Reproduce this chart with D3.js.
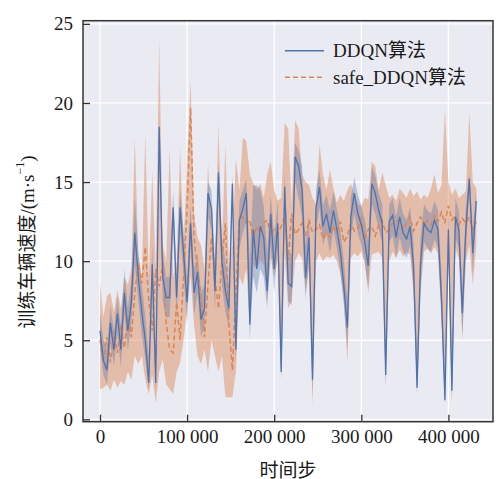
<!DOCTYPE html>
<html>
<head>
<meta charset="utf-8">
<title>训练车辆速度</title>
<script src="https://cdn.jsdelivr.net/npm/d3@7"></script>
<style>
  body { margin: 0; background: #fff; }
  text { font-family: "Liberation Serif", "Noto Sans CJK SC", serif; fill: #1a1a1a; }
</style>
</head>
<body>
<script>
// time steps: one sample every 4000 steps
let steps = d3.range(0, 436000, 4000);

// DDQN: mean and band
let ddqn = [5.6, 3.7, 3.1, 6.1, 4.4, 6.7, 4.4, 8.0, 5.6, 7.4, 11.8, 9.0, 6.8, 5.0, 2.3, 9.8, 2.3, 18.5, 9.0, 7.7,
    7.7, 13.4, 7.7, 13.4, 10.5, 7.4, 12.4, 8.0, 9.3, 6.3, 7.0, 14.3, 13.3, 8.1, 15.6, 10.0, 8.1, 7.0, 14.9, 4.4,
    12.6, 13.3, 14.3, 6.0, 12.0, 9.5, 12.2, 11.5, 8.1, 13.0, 9.5, 12.4, 3.0, 14.7, 8.6, 8.4, 16.6, 16.0, 14.5, 8.9,
    11.5, 2.5, 13.3, 14.7, 12.2, 13.0, 11.8, 13.2, 12.0, 10.6, 8.4, 5.8, 12.8, 14.3, 13.0, 12.3, 11.2, 9.7, 14.9, 14.3,
    13.2, 12.4, 2.8, 12.5, 12.9, 11.5, 12.8, 11.8, 11.4, 12.2, 9.7, 2.0, 9.9, 12.4, 12.0, 11.8, 12.6, 12.0, 7.7, 1.2,
    12.0, 1.8, 12.8, 12.0, 6.7, 12.0, 15.2, 10.5, 13.8];
let ddqnHi = [6.8, 5.0, 4.5, 7.2, 5.6, 7.8, 5.8, 9.5, 7.0, 8.8, 14.0, 10.5, 8.5, 6.5, 4.0, 11.0, 4.0, 19.0, 10.5, 9.0,
    9.0, 14.5, 9.0, 14.5, 12.0, 9.0, 13.5, 9.5, 10.5, 8.0, 8.5, 15.0, 14.5, 10.0, 16.2, 11.5, 10.0, 8.5, 15.5, 6.5,
    13.8, 14.5, 15.2, 10.0, 14.8, 14.8, 14.5, 13.5, 10.5, 14.2, 11.5, 13.8, 5.0, 15.5, 10.5, 10.5, 17.5, 17.0, 16.0, 11.0,
    13.0, 4.5, 14.5, 15.8, 13.5, 14.2, 13.2, 14.4, 13.3, 12.0, 10.0, 7.5, 14.0, 15.3, 14.2, 13.5, 12.6, 11.2, 16.0, 15.4,
    14.3, 13.6, 4.5, 13.6, 14.0, 12.8, 14.0, 13.0, 12.6, 13.4, 11.2, 4.0, 11.5, 13.6, 13.2, 13.0, 13.8, 13.2, 9.2, 3.0,
    13.2, 3.5, 14.0, 13.2, 8.2, 13.4, 15.6, 12.0, 14.6];
let ddqnLo = [4.5, 2.8, 2.2, 4.8, 3.4, 5.4, 3.3, 6.6, 4.4, 6.0, 9.8, 7.5, 5.3, 3.8, 1.8, 8.0, 1.8, 17.0, 7.5, 6.4,
    6.5, 11.8, 6.4, 11.8, 9.0, 6.0, 11.0, 6.6, 8.0, 5.2, 5.8, 12.8, 12.0, 6.8, 14.0, 8.5, 6.8, 5.8, 13.2, 3.5,
    10.8, 11.8, 12.5, 5.0, 9.0, 8.0, 9.5, 9.0, 7.0, 11.0, 8.0, 11.0, 2.5, 13.0, 7.5, 7.2, 15.0, 14.0, 12.8, 7.6,
    10.0, 1.5, 12.0, 13.4, 11.0, 11.8, 10.5, 12.0, 10.8, 9.3, 7.2, 4.5, 11.5, 13.0, 11.8, 11.0, 10.0, 8.3, 13.6, 13.0,
    12.0, 11.2, 2.2, 11.2, 11.6, 10.2, 11.5, 10.6, 10.2, 11.0, 8.2, 1.5, 8.4, 11.2, 10.8, 10.6, 11.4, 10.8, 6.5, 1.0,
    10.5, 1.2, 11.5, 10.8, 5.3, 10.6, 14.5, 9.2, 13.0];

// safe_DDQN: mean and band
let safe = [5.0, 3.8, 5.2, 3.6, 5.6, 4.2, 6.0, 4.5, 6.5, 5.2, 8.0, 9.9, 8.6, 10.9, 7.5, 5.6, 9.5, 8.4, 9.8, 6.1,
    4.4, 4.2, 7.4, 5.0, 9.0, 13.3, 19.7, 11.5, 9.3, 8.0, 5.2, 8.5, 11.5, 9.0, 7.0, 10.0, 12.4, 6.0, 3.1, 8.0,
    12.6, 12.8, 12.4, 12.6, 11.4, 12.2, 11.8, 12.4, 12.6, 11.6, 12.0, 11.7, 12.2, 12.8, 10.0, 13.0, 11.7, 12.0, 12.4, 11.6,
    12.6, 11.8, 12.0, 12.3, 11.4, 11.8, 11.5, 12.2, 11.8, 12.5, 11.2, 11.6, 12.4, 11.9, 12.1, 12.7, 11.4, 12.0, 12.2, 11.6,
    12.3, 12.6, 11.8, 12.0, 12.4, 12.5, 12.6, 12.0, 12.4, 12.8, 11.9, 12.4, 12.8, 12.2, 12.6, 12.3, 12.9, 12.5, 13.1, 12.4,
    13.5, 12.6, 12.9, 12.3, 12.7, 12.4, 12.8, 12.0, 12.5];
let safeHi = [8.6, 6.5, 7.8, 8.0, 6.8, 8.2, 7.0, 9.0, 8.5, 9.5, 17.8, 10.5, 9.0, 18.1, 9.0, 15.7, 9.5, 24.0, 11.0, 10.0,
    17.2, 9.0, 10.0, 17.2, 11.0, 16.5, 21.4, 13.0, 11.5, 11.0, 9.5, 16.2, 12.0, 10.0, 18.7, 11.0, 17.4, 9.5, 11.0, 16.5,
    14.5, 17.8, 17.6, 15.5, 14.9, 14.5, 14.9, 14.0, 15.5, 16.3, 14.5, 13.8, 14.0, 18.7, 18.4, 13.5, 18.9, 18.4, 15.5, 15.0,
    14.8, 14.0, 13.6, 17.4, 15.5, 14.5, 15.8, 14.6, 13.7, 14.2, 13.8, 14.5, 14.9, 14.2, 13.6, 13.5, 14.0, 13.9, 16.3, 16.0,
    14.5, 15.6, 14.8, 14.0, 14.2, 13.8, 14.6, 14.3, 14.0, 14.6, 14.1, 14.4, 13.9, 14.2, 14.0, 14.6, 15.5, 14.3, 14.8, 19.6,
    15.0, 14.2, 14.6, 14.0, 14.2, 14.4, 19.4, 15.0, 14.6];
let safeLo = [1.9, 2.0, 2.2, 1.8, 2.5, 2.0, 2.4, 2.2, 3.0, 2.5, 4.0, 3.5, 4.0, 2.5, 1.6, 2.8, 1.0, 3.0, 3.8, 2.2,
    1.9, 1.6, 3.0, 3.6, 5.0, 7.0, 9.0, 6.0, 4.0, 3.5, 4.4, 3.0, 5.0, 4.0, 3.0, 4.0, 1.4, 1.4, 1.4, 3.0,
    9.0, 8.5, 9.5, 6.0, 9.8, 9.5, 10.0, 9.8, 7.5, 10.2, 9.0, 10.0, 2.6, 10.5, 7.0, 7.5, 10.0, 10.5, 10.2, 8.0,
    9.5, 0.9, 10.0, 10.5, 10.0, 10.3, 10.2, 10.4, 10.0, 9.2, 7.5, 3.6, 10.2, 10.5, 10.3, 10.6, 9.8, 8.0, 10.4, 10.5,
    10.6, 10.2, 2.0, 10.0, 10.6, 10.2, 10.7, 10.3, 10.6, 10.4, 8.0, 1.8, 8.0, 10.6, 10.8, 10.5, 10.9, 10.5, 6.5, 1.0,
    10.5, 1.0, 10.8, 10.2, 5.0, 10.0, 11.0, 8.5, 11.0];

let xTicks = [0, 100000, 200000, 300000, 400000];
let yTicks = [0, 5, 10, 15, 20, 25];
let seriesNames = ['DDQN算法', 'safe_DDQN算法'];

let width = 503;
let height = 479;
let margin = {top: 20.7, right: 10, bottom: 57.3, left: 83};
let blue = '#4c72b0';
let orange = '#dd8452';

let svg = d3.select('body')
    .append('svg')
    .attr('width', width)
    .attr('height', height);

let x = d3.scaleLinear()
    .domain([-19500, 451200])
    .range([margin.left, width - margin.right]);
let y = d3.scaleLinear()
    .domain([-0.15, 25.2])
    .range([height - margin.bottom, margin.top]);

svg.append('rect')
    .attr('x', margin.left)
    .attr('y', margin.top)
    .attr('width', width - margin.left - margin.right)
    .attr('height', height - margin.top - margin.bottom)
    .attr('fill', '#eaeaf2');

svg.append('clipPath').attr('id', 'plot')
    .append('rect')
    .attr('x', margin.left)
    .attr('y', margin.top)
    .attr('width', width - margin.left - margin.right)
    .attr('height', height - margin.top - margin.bottom);

// grid
svg.append('g').selectAll('line')
    .data(xTicks).enter().append('line')
    .attr('x1', d => x(d)).attr('x2', d => x(d))
    .attr('y1', margin.top).attr('y2', height - margin.bottom)
    .attr('stroke', '#fff').attr('stroke-width', 1.3);
svg.append('g').selectAll('line')
    .data(yTicks).enter().append('line')
    .attr('x1', margin.left).attr('x2', width - margin.right)
    .attr('y1', d => y(d)).attr('y2', d => y(d))
    .attr('stroke', '#fff').attr('stroke-width', 1.3);

let plot = svg.append('g').attr('clip-path', 'url(#plot)');

let band = (lo, hi) => d3.area()
    .x((d, i) => x(steps[i]))
    .y0((d, i) => y(lo[i]))
    .y1((d, i) => y(hi[i]));
let line = vals => d3.line()
    .x((d, i) => x(steps[i]))
    .y((d, i) => y(vals[i]));

plot.append('path')
    .attr('d', band(safeLo, safeHi)(steps))
    .attr('fill', orange).attr('fill-opacity', 0.45);
plot.append('path')
    .attr('d', band(ddqnLo, ddqnHi)(steps))
    .attr('fill', blue).attr('fill-opacity', 0.35);
plot.append('path')
    .attr('d', line(safe)(steps))
    .attr('fill', 'none').attr('stroke', orange).attr('stroke-width', 1.5)
    .attr('stroke-dasharray', '5,3');
plot.append('path')
    .attr('d', line(ddqn)(steps))
    .attr('fill', 'none').attr('stroke', blue).attr('stroke-width', 1.3);

// axes
let fmt = d => d3.format(',')(d).replace(/,/g, ' ');
let xAxis = svg.append('g')
    .attr('transform', `translate(0,${height - margin.bottom})`)
    .call(d3.axisBottom(x).tickValues(xTicks).tickFormat(fmt).tickSizeInner(-7).tickSizeOuter(0).tickPadding(8));
let yAxis = svg.append('g')
    .attr('transform', `translate(${margin.left},0)`)
    .call(d3.axisLeft(y).tickValues(yTicks).tickSizeInner(-7).tickSizeOuter(0).tickPadding(10));
[xAxis, yAxis].forEach(a => {
    a.select('.domain').remove();
    a.selectAll('.tick line').attr('stroke', '#333').attr('stroke-width', 1.3);
    a.selectAll('.tick text').attr('font-size', 19).attr('fill', '#1a1a1a')
        .attr('font-family', '"Liberation Serif", serif');
});

svg.append('rect')
    .attr('x', margin.left)
    .attr('y', margin.top)
    .attr('width', width - margin.left - margin.right)
    .attr('height', height - margin.top - margin.bottom)
    .attr('fill', 'none')
    .attr('stroke', '#333')
    .attr('stroke-width', 1.5);

// axis titles
svg.append('text')
    .attr('x', (margin.left + width - margin.right) / 2)
    .attr('y', 470)
    .attr('text-anchor', 'middle')
    .attr('dominant-baseline', 'central')
    .attr('font-size', 19)
    .text('时间步');

let ylab = svg.append('text')
    .attr('transform', 'translate(27,242) rotate(-90)')
    .attr('text-anchor', 'middle')
    .attr('dominant-baseline', 'central')
    .attr('font-size', 19);
ylab.append('tspan').text('训练车辆速度/(m·s');
ylab.append('tspan').attr('dy', -7).attr('font-size', 12).text('−1');
ylab.append('tspan').attr('dy', 7).text(')');

// legend
let legend = svg.append('g').selectAll('g')
    .data(seriesNames).enter().append('g')
    .attr('transform', (d, i) => `translate(285,${50.7 + i * 26.6})`);
legend.append('line')
    .attr('x1', 0).attr('x2', 39)
    .attr('stroke', (d, i) => i ? orange : blue)
    .attr('stroke-width', 1.4)
    .attr('stroke-dasharray', (d, i) => i ? '5,3' : null);
legend.append('text')
    .attr('x', 48)
    .attr('dominant-baseline', 'central')
    .attr('font-size', 19)
    .text(d => d);
</script>
</body>
</html>
